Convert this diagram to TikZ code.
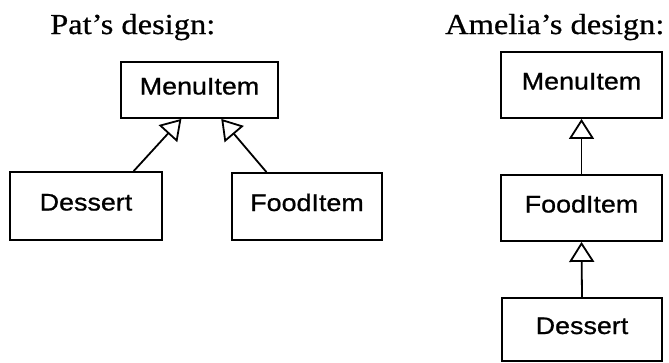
\documentclass[tikz,border=0pt]{standalone}
\usepackage{fontspec}
\usetikzlibrary{arrows.meta,calc,positioning}
\newfontfamily\titlefont{Liberation Serif}[FakeStretch=1.12,FakeBold=0.6]
\newfontfamily\boxfont{Liberation Sans}[FakeStretch=1.12,FakeBold=0.8]

\tikzset{
    cls/.style={draw, line width=1.8pt, inner sep=0pt,
        font=\boxfont\fontsize{24pt}{27pt}\selectfont,
        text height=17pt, text depth=8pt},
    title/.style={anchor=base west, inner sep=0pt,
        font=\titlefont\fontsize{29pt}{32pt}\selectfont},
    inherit/.style={line width=1.8pt,
        -{Triangle[open,length=20pt,width=25pt,line width=1.8pt]}}
}

\begin{document}
\begin{tikzpicture}[x=1pt,y=-1pt]
        \useasboundingbox (0,0) rectangle (669,362);
        % Titles
        \node[title] (patT) at (50,34) {Pat’s design:};
        \node[title] (ameT) at (445,34) {Amelia’s design:};
        % Pat's boxes
        \node[cls, minimum width=157pt, minimum height=56pt] (menuP) at (199.5,90) {MenuItem};
        \node[cls, minimum width=152pt, minimum height=68pt] (dessP) at (86,206) {Dessert};
        \node[cls, minimum width=150pt, minimum height=67pt] (foodP) at (307,206.5) {FoodItem};
        % Amelia's boxes
        \node[cls, minimum width=161pt, minimum height=66pt] (menuA) at (581.5,85) {MenuItem};
        \node[cls, minimum width=161pt, minimum height=66pt] (foodA) at (581.5,208) {FoodItem};
        \node[cls, minimum width=160pt, minimum height=63pt] (dessA) at (582,329.5) {Dessert};
        % Inheritance arrows
        \draw[inherit] ($(dessP.north west)!0.81!(dessP.north east)$) -- ($(menuP.south west)!0.386!(menuP.south east)$);
        \draw[inherit] ($(foodP.north west)!0.233!(foodP.north east)$) -- ($(menuP.south west)!0.637!(menuP.south east)$);
        \draw[inherit] (foodA.north) -- (menuA.south);
        \draw[inherit] (dessA.north) -- (foodA.south);
    \end{tikzpicture}
\end{document}
